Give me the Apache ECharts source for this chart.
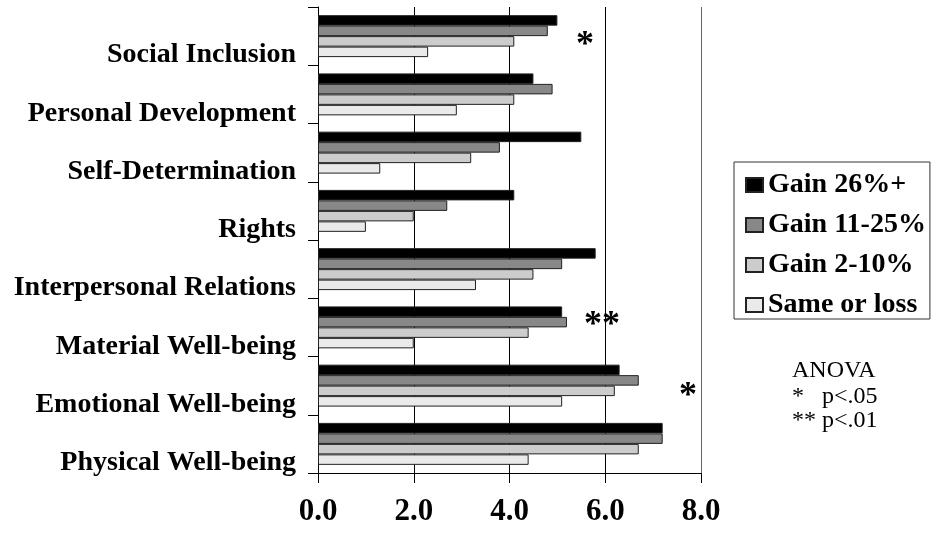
<!DOCTYPE html>
<html>
<head>
<meta charset="utf-8">
<script src="https://cdn.jsdelivr.net/npm/echarts@6/dist/echarts.min.js"></script>
<style>
html,body{margin:0;padding:0;background:#fff;}
#chart{width:939px;height:534px;}
</style>
</head>
<body>
<div id="chart"></div>
<script>
// Categories listed top to bottom
var categories = ['Social Inclusion','Personal Development','Self-Determination','Rights','Interpersonal Relations','Material Well-being','Emotional Well-being','Physical Well-being'];
var seriesNames = ['Gain 26%+','Gain 11-25%','Gain 2-10%','Same or loss'];
var gain26 = [5.0, 4.5, 5.5, 4.1, 5.8, 5.1, 6.3, 7.2];
var gain11 = [4.8, 4.9, 3.8, 2.7, 5.1, 5.2, 6.7, 7.2];
var gain2  = [4.1, 4.1, 3.2, 2.0, 4.5, 4.4, 6.2, 6.7];
var same   = [2.3, 2.9, 1.3, 1.0, 3.3, 2.0, 5.1, 4.4];
var xTicks = [0, 2, 4, 6, 8];
var anovaLines = ['ANOVA', '*   p<.05', '** p<.01'];

var colors = ['#000000', '#888888', '#cccccc', '#eaeaea'];
var seriesData = [gain26, gain11, gain2, same];
var FONT = '"Liberation Serif", "Times New Roman", serif';

var chart = echarts.init(document.getElementById('chart'), null, {renderer: 'canvas'});
var series = seriesNames.map(function (n, i) {
  return {
    name: n,
    type: 'bar',
    data: seriesData[i],
    barGap: '0%',
    barCategoryGap: '28%',
    itemStyle: {color: colors[i], borderColor: '#222', borderWidth: 1},
    emphasis: {disabled: true},
    animation: false
  };
});

chart.setOption({
  animation: false,
  textStyle: {fontFamily: FONT},
  grid: {left: 318, right: 238, top: 7, bottom: 61},
  legend: {
    orient: 'vertical',
    left: 734, top: 162,
    data: seriesNames,
    itemWidth: 17, itemHeight: 14,
    itemGap: 12,
    padding: [9, 4, 0, 11],
    borderColor: '#333', borderWidth: 1,
    textStyle: {fontFamily: FONT, fontWeight: 'bold', fontSize: 28, color: '#000'},
    icon: 'rect',
    selectedMode: false
  },
  xAxis: {
    type: 'value', min: xTicks[0], max: xTicks[xTicks.length - 1], interval: 2,
    axisLine: {show: true, lineStyle: {color: '#000', width: 1}},
    axisTick: {show: true, length: 10, lineStyle: {color: '#000'}},
    axisLabel: {
      formatter: function (v) { return v.toFixed(1); },
      fontFamily: FONT, fontWeight: 'bold', fontSize: 31, color: '#000', margin: 23
    },
    splitLine: {show: true, lineStyle: {color: ['#000', '#000', '#000', '#000', '#666'], width: 1}}
  },
  yAxis: {
    type: 'category', data: categories, inverse: true,
    axisLine: {show: true, lineStyle: {color: '#000', width: 1}},
    axisTick: {show: true, length: 10, lineStyle: {color: '#000'}},
    axisLabel: {
      fontFamily: FONT, fontWeight: 'bold', fontSize: 28, color: '#000', margin: 22,
      verticalAlign: 'top', padding: [5, 0, 0, 0]
    },
    splitLine: {show: false}
  },
  graphic: [
    {type: 'text', left: 576, top: 28, style: {text: '*', font: 'bold 36px ' + FONT, fill: '#000'}},
    {type: 'text', left: 584, top: 308, style: {text: '**', font: 'bold 36px ' + FONT, fill: '#000'}},
    {type: 'text', left: 679, top: 379, style: {text: '*', font: 'bold 36px ' + FONT, fill: '#000'}},
    {type: 'text', left: 792, top: 359, style: {text: anovaLines[0], font: '24px ' + FONT, fill: '#000'}},
    {type: 'text', left: 792, top: 385, style: {text: anovaLines[1], font: '24px ' + FONT, fill: '#000'}},
    {type: 'text', left: 792, top: 409, style: {text: anovaLines[2], font: '24px ' + FONT, fill: '#000'}}
  ],
  series: series
});
</script>
</body>
</html>
